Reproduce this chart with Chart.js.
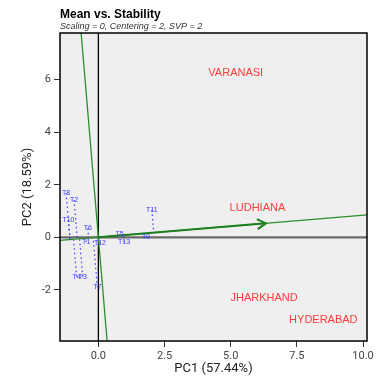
<!DOCTYPE html>
<html>
<head>
<meta charset="utf-8">
<script src="https://cdn.jsdelivr.net/npm/chart.js@4"></script>
<style>
html,body{margin:0;padding:0;background:#fff;}
#wrap{position:relative;width:384px;height:385px;}
</style>
</head>
<body>
<div id="wrap"><canvas id="c" width="384" height="385"></canvas></div>
<script>
// ---- data ----
const TITLE = 'Mean vs. Stability';
const SUBTITLE = 'Scaling = 0, Centering = 2, SVP = 2';
const X_TITLE = 'PC1 (57.44%)';
const Y_TITLE = 'PC2 (18.59%)';
const X_TICKS = [0, 2.5, 5, 7.5, 10];
const Y_TICKS = [-2, 0, 2, 4, 6];
const X_RANGE = [-1.45, 10.15];
const Y_RANGE = [-3.95, 7.78];

const GENOTYPES = ['T1','T2','T3','T4','T5','T6','T7','T8','T9','T10','T11','T12','T13'];
const GEN_X = [-0.46, -0.92, -0.59, -0.82, 0.80, -0.40, -0.04, -1.22, 1.80, -1.13, 2.02, 0.06, 0.97];
const GEN_Y = [-0.18, 1.42, -1.50, -1.50, 0.11, 0.34, -1.90, 1.68, -0.01, 0.66, 1.04, -0.23, -0.19];

const ENVIRONMENTS = ['VARANASI','LUDHIANA','JHARKHAND','HYDERABAD'];
const ENV_X = [5.19, 6.01, 6.26, 8.50];
const ENV_Y = [6.26, 1.12, -2.30, -3.13];

// average-environment axis (arrow end)
const AEC_X = 6.33;
const AEC_Y = 0.53;

// ---- derived geometry ----
const slope = AEC_Y / AEC_X;
const aecLine = [{x: X_RANGE[0], y: X_RANGE[0]*slope}, {x: X_RANGE[1], y: X_RANGE[1]*slope}];
const perpLine = [{x: -Y_RANGE[1]*slope, y: Y_RANGE[1]}, {x: -Y_RANGE[0]*slope, y: Y_RANGE[0]}];
function proj(x, y){
  const t = (x*AEC_X + y*AEC_Y) / (AEC_X*AEC_X + AEC_Y*AEC_Y);
  return {x: t*AEC_X, y: t*AEC_Y};
}

const GREEN = '#2a8f2a';
const BLUE = '#3a3aff';
const RED = '#ff3b3b';

const datasets = [];
// projection dotted lines
GENOTYPES.forEach((g, i) => {
  datasets.push({
    data: [{x: GEN_X[i], y: GEN_Y[i]}, proj(GEN_X[i], GEN_Y[i])],
    showLine: true, borderColor: BLUE, borderWidth: 1.2, borderDash: [1.5, 3],
    pointRadius: 0, order: 3
  });
});
datasets.push({data: [{x:0,y:0},{x:AEC_X,y:AEC_Y}], showLine:true, borderColor:'#1f7f1f', borderWidth:2, pointRadius:0, order:1});
datasets.push({data: aecLine, showLine:true, borderColor:GREEN, borderWidth:1.3, pointRadius:0, order:2});
datasets.push({data: perpLine, showLine:true, borderColor:GREEN, borderWidth:1.3, pointRadius:0, order:2});
datasets.push({data: [{x:0,y:Y_RANGE[0]},{x:0,y:Y_RANGE[1]}], showLine:true, borderColor:'#000', borderWidth:1.3, pointRadius:0, order:5});
datasets.push({data: [{x:X_RANGE[0],y:0},{x:X_RANGE[1],y:0}], showLine:true, borderColor:'#6a6a6a', borderWidth:2.2, pointRadius:0, order:6});

const decor = {
  id: 'decor',
  beforeDatasetsDraw(chart){
    const {ctx, chartArea:a} = chart;
    ctx.save();
    ctx.fillStyle = '#efefef';
    ctx.fillRect(a.left, a.top, a.right-a.left, a.bottom-a.top);
    ctx.restore();
  },
  afterDatasetsDraw(chart){
    const {ctx, chartArea:a, scales:{x, y}} = chart;
    ctx.save();
    // arrowhead
    const x0 = x.getPixelForValue(0), y0 = y.getPixelForValue(0);
    const x1 = x.getPixelForValue(AEC_X), y1 = y.getPixelForValue(AEC_Y);
    const ang = Math.atan2(y1-y0, x1-x0);
    const L = 10, sp = Math.PI/6;
    ctx.strokeStyle = '#1f7f1f'; ctx.lineWidth = 2;
    ctx.beginPath();
    ctx.moveTo(x1 - L*Math.cos(ang-sp), y1 - L*Math.sin(ang-sp));
    ctx.lineTo(x1, y1);
    ctx.lineTo(x1 - L*Math.cos(ang+sp), y1 - L*Math.sin(ang+sp));
    ctx.stroke();
    // genotype labels
    ctx.font = '7px "Liberation Sans", Arial, sans-serif';
    ctx.fillStyle = BLUE; ctx.textAlign = 'center'; ctx.textBaseline = 'middle';
    GENOTYPES.forEach((g, i) => ctx.fillText(g, x.getPixelForValue(GEN_X[i]), y.getPixelForValue(GEN_Y[i])));
    // environment labels
    ctx.font = '11px "Liberation Sans", Arial, sans-serif';
    ctx.fillStyle = RED;
    ENVIRONMENTS.forEach((e, i) => ctx.fillText(e, x.getPixelForValue(ENV_X[i]), y.getPixelForValue(ENV_Y[i])));
    // panel border
    ctx.strokeStyle = '#000'; ctx.lineWidth = 1.5;
    ctx.strokeRect(a.left, a.top, a.right-a.left, a.bottom-a.top);
    // titles
    ctx.textAlign = 'left'; ctx.textBaseline = 'alphabetic';
    ctx.fillStyle = '#000';
    ctx.font = 'bold 12px "Liberation Sans", Arial, sans-serif';
    ctx.fillText(TITLE, a.left, 18);
    ctx.fillStyle = '#333';
    ctx.font = 'italic 9px "Liberation Sans", Arial, sans-serif';
    ctx.fillText(SUBTITLE, a.left, 28.5);
    ctx.restore();
  }
};

new Chart(document.getElementById('c'), {
  type: 'scatter',
  data: {datasets},
  options: {
    responsive: false,
    animation: false,
    events: [],
    layout: {padding: {top: 33, right: 17, left: 0, bottom: 0}},
    plugins: {legend: {display: false}, tooltip: {enabled: false}},
    scales: {
      x: {
        type: 'linear', min: X_RANGE[0], max: X_RANGE[1],
        afterBuildTicks(s){ s.ticks = X_TICKS.map(v => ({value: v})); },
        afterFit(s){ s.height = 44; },
        ticks: {callback: v => Number(v).toFixed(1), color: '#444', font: {family: 'Roboto', size: 11}, padding: 3, maxRotation: 0},
        grid: {drawOnChartArea: false, drawTicks: true, tickLength: 6, color: '#333', lineWidth: 1},
        border: {display: false},
        title: {display: true, text: X_TITLE, color: '#222', font: {family: 'Roboto', size: 13}, padding: {top: 0, bottom: 8}}
      },
      y: {
        type: 'linear', min: Y_RANGE[0], max: Y_RANGE[1],
        afterBuildTicks(s){ s.ticks = Y_TICKS.map(v => ({value: v})); },
        afterFit(s){ s.width = 60; },
        ticks: {callback: v => String(v), color: '#444', font: {family: 'Roboto', size: 11}, padding: 3},
        grid: {drawOnChartArea: false, drawTicks: true, tickLength: 6, color: '#333', lineWidth: 1},
        border: {display: false},
        title: {display: true, text: Y_TITLE, color: '#222', font: {family: 'Roboto', size: 13}, padding: {top: 20, bottom: 0}}
      }
    }
  },
  plugins: [decor]
});
</script>
</body>
</html>
